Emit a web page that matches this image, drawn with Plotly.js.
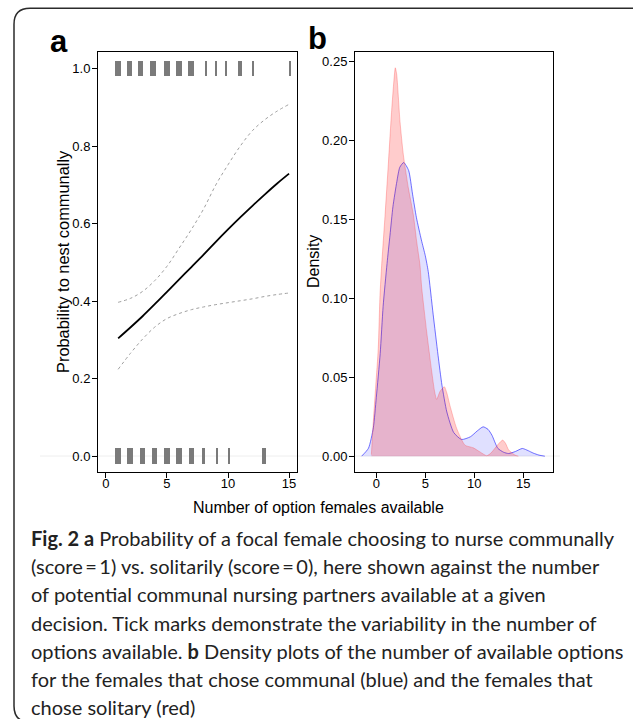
<!DOCTYPE html>
<html>
<head>
<meta charset="utf-8">
<script src="https://cdn.plot.ly/plotly-3.0.1.min.js"></script>
<style>html,body{margin:0;padding:0;background:#fff;}#chart{width:633px;height:719px;}</style>
</head>
<body>
<div id="chart"></div>
<script>
// ---------- DATA ----------
// Panel a: fitted probability and confidence band
var fitX = [1, 2, 3, 4, 5, 6, 7, 8, 9, 10, 11, 12, 13, 14, 15];
var fitY = [0.304, 0.332, 0.361, 0.392, 0.424, 0.456, 0.488, 0.520, 0.553, 0.585, 0.616, 0.646, 0.675, 0.703, 0.729];
var upperY = [0.397, 0.407, 0.425, 0.453, 0.490, 0.537, 0.585, 0.638, 0.700, 0.752, 0.800, 0.840, 0.868, 0.890, 0.908];
var lowerY = [0.224, 0.265, 0.302, 0.333, 0.355, 0.368, 0.378, 0.385, 0.391, 0.396, 0.401, 0.406, 0.412, 0.417, 0.421];
// Rug marks (communal = 1, solitary = 0) and jitter spread of each mark
var rugTopX = [0.97, 1.93, 2.83, 3.86, 5.0, 5.97, 6.97, 8.17, 9.0, 9.82, 10.88, 11.09, 12.07, 15.07];
var rugTopSpread = [0.46, 0.46, 0.46, 0.46, 0.46, 0.46, 0.46, 0.14, 0.14, 0.14, 0.14, 0.14, 0.14, 0.14];
var rugBotX = [0.97, 1.99, 3.0, 3.99, 5.0, 5.98, 7.02, 7.99, 9.08, 10.1, 12.97];
var rugBotSpread = [0.46, 0.46, 0.46, 0.46, 0.46, 0.46, 0.46, 0.25, 0.19, 0.16, 0.33];

// Panel b: density of options, communal (blue)
var blueX = [-1.5, -0.8, -0.3, 0.0, 0.4, 0.7, 1.1, 1.4, 1.7, 2.1, 2.4, 2.8, 3.3, 3.7, 4.1, 4.6, 5.0, 5.3, 5.8, 6.3, 6.7, 7.2, 7.9, 8.7, 9.6, 10.3, 10.9, 11.4, 11.8, 12.4, 13.0, 13.5, 14.2, 14.9, 15.5, 16.0, 16.6, 17.2];
var blueY = [0.0, 0.005, 0.018, 0.037, 0.065, 0.095, 0.122, 0.140, 0.158, 0.174, 0.183, 0.186, 0.181, 0.166, 0.151, 0.137, 0.127, 0.117, 0.090, 0.064, 0.045, 0.028, 0.015, 0.0106, 0.0123, 0.016, 0.0186, 0.017, 0.0133, 0.005, 0.0025, 0.0017, 0.003, 0.0049, 0.0035, 0.002, 0.0007, 0.0];
// solitary (red)
var redX = [-0.5, -0.3, -0.05, 0.2, 0.38, 0.55, 0.9, 1.23, 1.57, 1.8, 1.94, 2.08, 2.42, 2.76, 3.27, 3.78, 4.12, 4.46, 4.63, 5.14, 5.65, 5.95, 6.16, 6.5, 6.94, 7.2, 7.52, 8.2, 9.05, 9.9, 10.58, 11.27, 11.7, 12.1, 12.5, 12.9, 13.2, 13.5, 14.15, 14.5];
var redY = [0.001, 0.022, 0.045, 0.068, 0.102, 0.121, 0.153, 0.185, 0.219, 0.238, 0.246, 0.242, 0.212, 0.191, 0.170, 0.153, 0.136, 0.121, 0.107, 0.079, 0.054, 0.041, 0.036, 0.041, 0.044, 0.040, 0.032, 0.0176, 0.007, 0.0053, 0.0027, 0.0003, 0.002, 0.005, 0.008, 0.0102, 0.008, 0.004, 0.0007, 0.0];

var tickA_X = [0, 5, 10, 15];
var tickA_Y = [0, 0.2, 0.4, 0.6, 0.8, 1.0];
var tickB_X = [0, 5, 10, 15];
var tickB_Y = [0, 0.05, 0.10, 0.15, 0.20, 0.25];

var yTitleA = 'Probability to nest communally';
var yTitleB = 'Density';
var xTitle = 'Number of option females available';
var captionLines = [
  '<b>Fig. 2 a</b> Probability of a focal female choosing to nurse communally',
  '(score\u2009=\u20091) vs. solitarily (score\u2009=\u20090), here shown against the number',
  'of potential communal nursing partners available at a given',
  'decision. Tick marks demonstrate the variability in the number of',
  'options available. <b>b</b> Density plots of the number of available options',
  'for the females that chose communal (blue) and the females that',
  'chose solitary (red)'
];

// ---------- LAYOUT HELPERS ----------
var W = 633, H = 719;
function px(x) { return x / W; }
function py(y) { return 1 - y / H; }

var axFont = {family: 'Liberation Sans, Arial, sans-serif', size: 13, color: '#000'};

var traces = [];
// rugs
traces.push({type: 'bar', x: rugTopX, y: rugTopX.map(function(){return 0.04;}), base: 0.98,
  width: rugTopSpread, marker: {color: '#7a7a7a', line: {width: 0}}, xaxis: 'x', yaxis: 'y', hoverinfo: 'skip'});
traces.push({type: 'bar', x: rugBotX, y: rugBotX.map(function(){return 0.04;}), base: -0.02,
  width: rugBotSpread, marker: {color: '#7a7a7a', line: {width: 0}}, xaxis: 'x', yaxis: 'y', hoverinfo: 'skip'});
// bands
traces.push({type: 'scatter', mode: 'lines', x: fitX, y: upperY, line: {color: '#a0a0a0', width: 1, dash: '3px,3px', shape: 'spline'}, xaxis: 'x', yaxis: 'y'});
traces.push({type: 'scatter', mode: 'lines', x: fitX, y: lowerY, line: {color: '#a0a0a0', width: 1, dash: '3px,3px', shape: 'spline'}, xaxis: 'x', yaxis: 'y'});
traces.push({type: 'scatter', mode: 'lines', x: fitX, y: fitY, line: {color: '#000', width: 1.8, shape: 'spline'}, xaxis: 'x', yaxis: 'y'});
// densities
traces.push({type: 'scatter', mode: 'lines', x: blueX, y: blueY, fill: 'tozeroy', fillcolor: 'rgba(0,0,255,0.12)',
  line: {color: 'rgba(40,40,255,0.65)', width: 1, shape: 'spline', smoothing: 0.6}, xaxis: 'x2', yaxis: 'y2'});
traces.push({type: 'scatter', mode: 'lines', x: redX, y: redY, fill: 'tozeroy', fillcolor: 'rgba(255,0,0,0.2)',
  line: {color: 'rgba(255,60,60,0.3)', width: 1, shape: 'spline', smoothing: 0.6}, xaxis: 'x2', yaxis: 'y2'});

function axis(dom, range, tv, fmt, standoff) {
  return {domain: dom, range: range, tickvals: tv, tickformat: fmt, showgrid: false, zeroline: false,
    showline: true, mirror: true, linecolor: '#000', linewidth: 1, ticks: 'outside', ticklen: 5,
    tickcolor: '#000', tickwidth: 1, tickfont: axFont, fixedrange: true, ticklabelstandoff: standoff};
}

var titleFont = {family: axFont.family, size: 16, color: '#000'};
var annotations = [
  {text: yTitleA, x: px(63), y: py(262), xref: 'paper', yref: 'paper', textangle: -90, showarrow: false,
    font: {family: axFont.family, size: 16.4, color: '#000'}, xanchor: 'center', yanchor: 'middle'},
  {text: yTitleB, x: px(313), y: py(262), xref: 'paper', yref: 'paper', textangle: -90, showarrow: false,
    font: titleFont, xanchor: 'center', yanchor: 'middle'},
  {text: xTitle, x: px(318), y: py(507), xref: 'paper', yref: 'paper', showarrow: false,
    font: titleFont, xanchor: 'center', yanchor: 'middle'},
  {text: '<b>a</b>', x: px(48), y: py(42), xref: 'paper', yref: 'paper', showarrow: false,
    font: {family: axFont.family, size: 31, color: '#000'}, xanchor: 'left', yanchor: 'middle'},
  {text: '<b>b</b>', x: px(306), y: py(38.5), xref: 'paper', yref: 'paper', showarrow: false,
    font: {family: axFont.family, size: 31, color: '#000'}, xanchor: 'left', yanchor: 'middle'}
];
var capY0 = 538, capStep = 28.2;
captionLines.forEach(function(t, i) {
  annotations.push({text: t, x: px(29), y: py(capY0 + i * capStep), xref: 'paper', yref: 'paper', showarrow: false,
    font: {family: 'Lato, Open Sans, sans-serif', size: 20, color: '#222'}, xanchor: 'left', yanchor: 'middle', align: 'left'});
});

function P(x, y) { return px(x) + ',' + py(y); }
var framePath = 'M ' + P(640, 8.3) + ' L ' + P(30, 8.3) + ' Q ' + P(14, 8.3) + ' ' + P(14, 24.3) +
  ' L ' + P(14, 706) + ' Q ' + P(14, 722) + ' ' + P(30, 722) + ' L ' + P(640, 722);

var layout = {
  width: W, height: H, margin: {l: 0, r: 0, t: 0, b: 0}, paper_bgcolor: '#fff', plot_bgcolor: 'rgba(0,0,0,0)',
  showlegend: false, barmode: 'overlay', bargap: 0,
  xaxis: axis([px(98), px(297)], [-0.65, 15.65], tickA_X, 'd', -6),
  yaxis: axis([py(472), py(52)], [-0.041, 1.043], tickA_Y, '.1f', -1),
  xaxis2: axis([px(355), px(553.3)], [-2.17, 18.06], tickB_X, 'd', -6),
  yaxis2: axis([py(472), py(52)], [-0.01, 0.256], tickB_Y, '.2f', -1),
  annotations: annotations,
  shapes: [
    {type: 'line', xref: 'paper', yref: 'paper', x0: px(40), x1: px(560), y0: py(456), y1: py(456), layer: 'below',
      line: {color: '#eeeeee', width: 1}},
    {type: 'path', xref: 'paper', yref: 'paper', path: framePath, line: {color: '#2b2b2b', width: 1.5}}
  ]
};
layout.xaxis2.anchor = 'y2';
layout.yaxis2.anchor = 'x2';

Plotly.newPlot('chart', traces, layout, {displayModeBar: false, staticPlot: true});
</script>
</body>
</html>
